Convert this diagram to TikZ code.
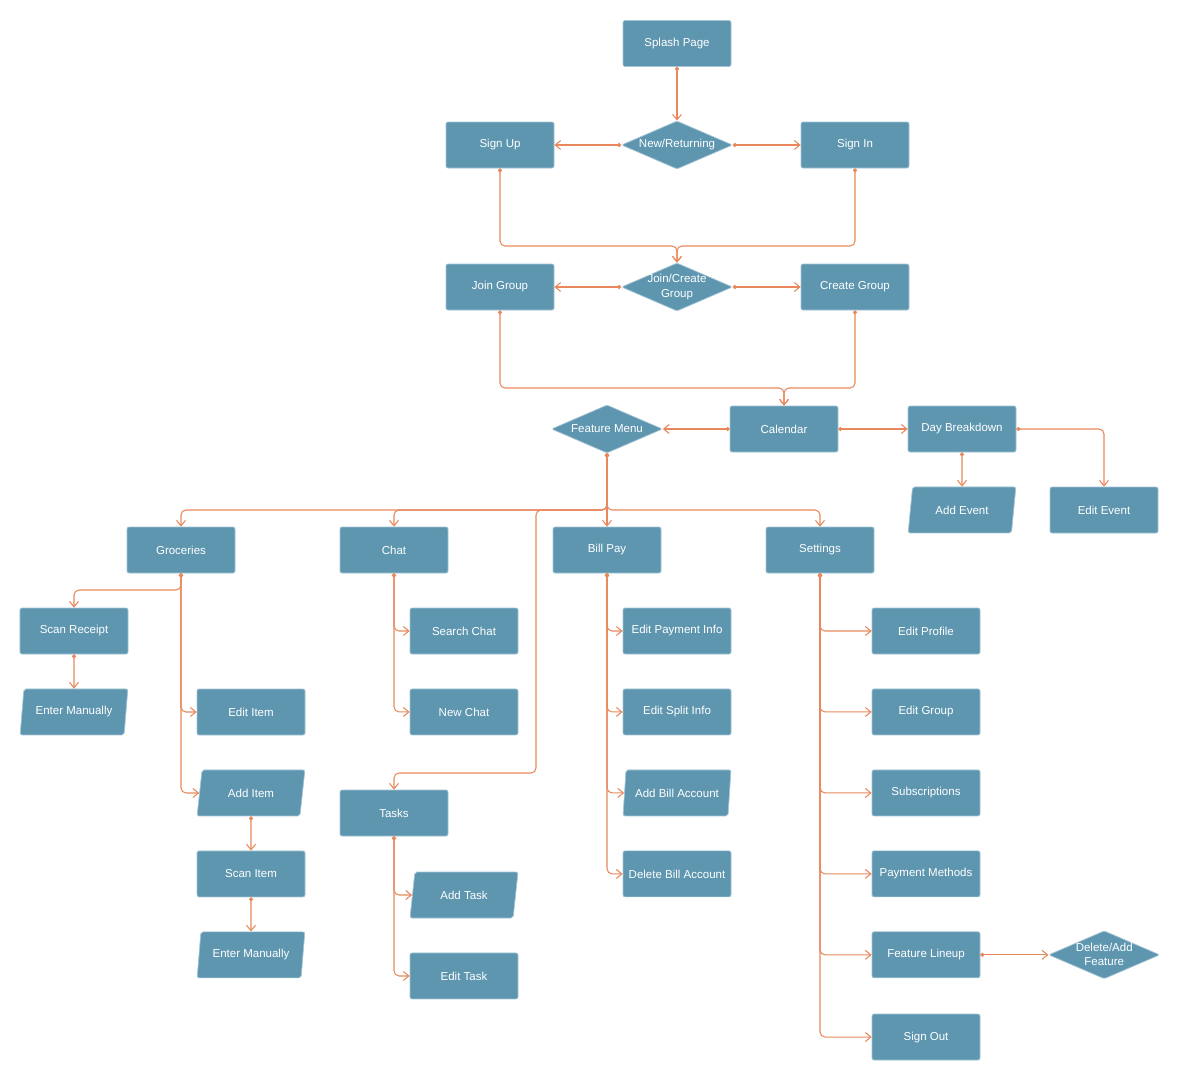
\documentclass[tikz,border=0pt]{standalone}
\usepackage{fontspec}
\setmainfont{Liberation Sans}
\usetikzlibrary{positioning,arrows.meta,shapes.geometric}
\definecolor{boxfill}{HTML}{5E96B0}
\definecolor{boxline}{HTML}{A3C4D4}
\definecolor{flow}{HTML}{E8885C}

\begin{document}
\begin{tikzpicture}[
    x=0.2mm, y=-0.2mm,
    node distance=6.85mm,
    font=\fontsize{6.55}{8}\selectfont,
    box/.style={draw=boxline, line width=0.4pt, fill=boxfill, text=white, minimum width=21.6mm, minimum height=9.2mm, align=center, rounded corners=0.4mm, inner sep=1pt},
    iobox/.style={box, trapezium, trapezium left angle=78, trapezium right angle=102, trapezium stretches},
    choice/.style={box, diamond, aspect=2.33, minimum width=22.2mm, minimum height=9.6mm, inner sep=-1.5pt, rounded corners=0.3mm},
    arr/.style={{Circle[length=0.8mm]}-{Straight Barb[length=1.1mm,width=1.8mm]}, line width=0.6pt, draw=flow, rounded corners=1mm}
]
    \useasboundingbox (0,0) rectangle (1200,1081);

    % sign in / group
    \node[box] (splash) at (677,43.5) {Splash Page};
    \node[choice] (newret) at (677,145) {New/Returning};
    \node[box] (signup) at (500,145) {Sign Up};
    \node[box] (signin) at (855,145) {Sign In};
    \node[choice] (jc) at (677,287) {Join/Create\\Group};
    \node[box] (joing) at (500,287) {Join Group};
    \node[box] (createg) at (855,287) {Create Group};
    \coordinate (m1) at (677,246);
    \coordinate (m2) at (784,388);

    % calendar
    \node[box] (cal) at (784,429) {Calendar};
    \node[choice] (menu) at (607,429) {Feature Menu};
    \node[box] (day) at (962,429) {Day Breakdown};
    \node[iobox, below=of day] (addev) {Add Event};
    \node[box] (editev) at (1104,510) {Edit Event};

    % features
    \coordinate (fork) at (607,510);
    \node[box] (groc) at (181,550) {Groceries};
    \node[box] (chat) at (394,550) {Chat};
    \node[box] (bill) at (607,550) {Bill Pay};
    \node[box] (sett) at (820,550) {Settings};
    \node[box] (tasks) at (394,813) {Tasks};
    \coordinate (tk) at (536,773);

    % groceries
    \coordinate (gk) at (181,590);
    \node[box] (scanr) at (74,631) {Scan Receipt};
    \node[iobox, below=of scanr] (manual1) {Enter Manually};
    \node[box] (edit) at (251,712) {Edit Item};
    \node[iobox, below=of edit] (additem) {Add Item};
    \node[box, below=of additem] (scanitem) {Scan Item};
    \node[iobox, below=of scanitem] (manual2) {Enter Manually};

    % chat, tasks
    \node[box] (search) at (464,631) {Search Chat};
    \node[box, below=of search] (newchat) {New Chat};
    \node[iobox] (addtask) at (464,895) {Add Task};
    \node[box, below=of addtask] (edittask) {Edit Task};

    % bill pay
    \node[box] (epay) at (677,631) {Edit Payment Info};
    \node[box, below=of epay] (esplit) {Edit Split Info};
    \node[iobox, below=of esplit] (addbill) {Add Bill Account};
    \node[box, below=of addbill] (delbill) {Delete Bill Account};

    % settings
    \node[box] (eprof) at (926,631) {Edit Profile};
    \node[box, below=of eprof] (egroup) {Edit Group};
    \node[box, below=of egroup] (subs) {Subscriptions};
    \node[box, below=of subs] (paym) {Payment Methods};
    \node[box, below=of paym] (lineup) {Feature Lineup};
    \node[box, below=7.1mm of lineup] (signout) {Sign Out};
    \node[choice, right=13.6mm of lineup] (delfeat) {Delete/Add\\Feature};

    \draw[arr] (splash) -- (newret);
    \draw[arr] (newret) -- (signup);
    \draw[arr] (newret) -- (signin);
    \draw[arr] (signup.south) |- (m1) -- (jc.north);
    \draw[arr] (signin.south) |- (m1) -- (jc.north);
    \draw[arr] (jc) -- (joing);
    \draw[arr] (jc) -- (createg);
    \draw[arr] (joing.south) |- (m2) -- (cal.north);
    \draw[arr] (createg.south) |- (m2) -- (cal.north);

    \draw[arr] (cal) -- (menu);
    \draw[arr] (cal) -- (day);
    \draw[arr] (day) -- (addev);
    \draw[arr] (day.east) -| (editev.north);

    \draw[arr] (menu.south) -- (fork) -| (groc.north);
    \draw[arr] (menu.south) -- (fork) -| (chat.north);
    \draw[arr] (menu.south) -- (bill.north);
    \draw[arr] (menu.south) -- (fork) -| (sett.north);
    \draw[arr] (menu.south) -- (fork) -| (tk) -| (tasks.north);

    \draw[arr] (groc.south) -- (gk) -| (scanr.north);
    \draw[arr] (scanr) -- (manual1);
    \draw[arr] (groc.south) |- (edit.west);
    \draw[arr] (groc.south) |- (additem.west);
    \draw[arr] (additem) -- (scanitem);
    \draw[arr] (scanitem) -- (manual2);

    \draw[arr] (chat.south) |- (search.west);
    \draw[arr] (chat.south) |- (newchat.west);
    \draw[arr] (tasks.south) |- (addtask.west);
    \draw[arr] (tasks.south) |- (edittask.west);

    \foreach \n in {epay,esplit,addbill,delbill}
        \draw[arr] (bill.south) |- (\n.west);
    \foreach \n in {eprof,egroup,subs,paym,lineup,signout}
        \draw[arr] (sett.south) |- (\n.west);
    \draw[arr] (lineup) -- (delfeat);
\end{tikzpicture}
\end{document}
